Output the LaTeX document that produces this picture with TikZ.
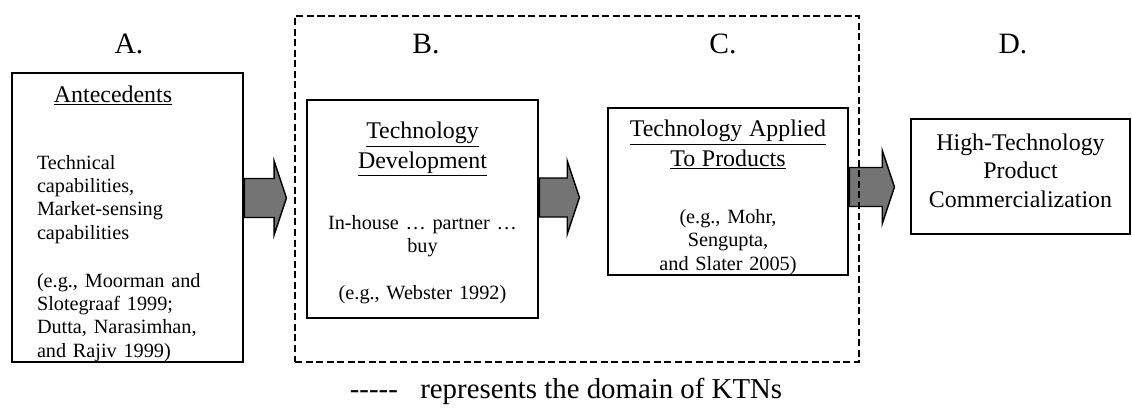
\documentclass[tikz,border=0pt]{standalone}
\usepackage{fontspec}
\setmainfont{Liberation Serif}
\usetikzlibrary{shapes.arrows,calc}
\definecolor{arrowgray}{RGB}{116,116,116}
\newcommand\headfont{\fontsize{17}{20}\selectfont}

\begin{document}
\begin{tikzpicture}[
  box/.style={draw,line width=1.1pt,inner sep=0pt,font=\fontsize{14.4}{16.6}\selectfont},
  fatarr/.style={single arrow,draw,fill=arrowgray,line width=1pt,inner xsep=0pt,inner ysep=0.47cm,
    single arrow head extend=0.43cm,single arrow tip angle=143,single arrow head indent=0pt,anchor=tail},
  lbl/.style={font=\fontsize{21}{25}\selectfont},
  ktnframe/.style={draw,dash pattern=on 5pt off 2.5pt,line width=1pt,inner sep=0pt}]
  \useasboundingbox (0,0) rectangle (28.3,10.3);
  % stage letters
  \node[lbl] (labA) at (3.225,9.2) {A.};
  \node[lbl] (labB) at (10.65,9.2) {B.};
  \node[lbl] (labC) at (18.075,9.2) {C.};
  \node[lbl] (labD) at (25.325,9.2) {D.};
  % boxes
  \node[box,minimum width=5.775cm,minimum height=7.225cm,text width=4.525cm,align=left] (nA) at (3.1875,4.8625)
    {\makebox[3.8cm]{\rule{0pt}{20.5pt}\headfont\underline{Antecedents}}\\[31pt]
     Technical\\capabilities,\\Market-sensing\\capabilities\\[17.4pt]
     (e.g., Moorman and\\Slotegraaf 1999;\\Dutta, Narasimhan,\\and Rajiv 1999)};
  \node[box,minimum width=5.775cm,minimum height=5.45cm,text width=5.2cm,align=center] (nB) at (10.5625,5.075)
    {\rule{0pt}{17.3pt}{\headfont\underline{Technology}}\\[2.6pt]{\headfont\underline{Development}}\\[26.8pt]
     In-house … partner …\\buy\\[16.6pt](e.g., Webster 1992)};
  \node[box,minimum width=6cm,minimum height=4.175cm,text width=5.6cm,align=center] (nC) at (18.2,5.5125)
    {\rule{0pt}{20pt}{\headfont\underline{Technology Applied}}\\[2.6pt]{\headfont\underline{To Products}}\\[23.9pt]
     (e.g., Mohr,\\Sengupta,\\and Slater 2005)};
  \node[box,minimum width=5.475cm,minimum height=2.875cm,text width=5.2cm,align=center,
    font=\fontsize{17}{20.3}\selectfont] (nD) at (25.5125,5.8875)
    {High-Technology\\Product\\Commercialization\rule[-8.5pt]{0pt}{8.5pt}};
  % block arrows
  \node[fatarr,minimum height=1.05cm] (arAB) at ($(nA.east)+(0,0.4875)$) {};
  \node[fatarr,minimum height=1cm] (arBC) at ($(nB.east)+(0,0.2875)$) {};
  \node[fatarr,minimum height=1.125cm] (arCD) at ($(nC.east)+(0,0.1125)$) {};
  % KTN domain
  \node[ktnframe,minimum width=14.1cm,minimum height=8.65cm] (ktn) at (14.425,5.575) {};
  \node[lbl,font=\fontsize{20.5}{24}\selectfont] (note) at (14.15,0.525)
    {-\kern0pt-\kern0pt-\kern0pt-\kern0pt-\hspace{16pt}represents the domain of KTNs};
\end{tikzpicture}
\end{document}
